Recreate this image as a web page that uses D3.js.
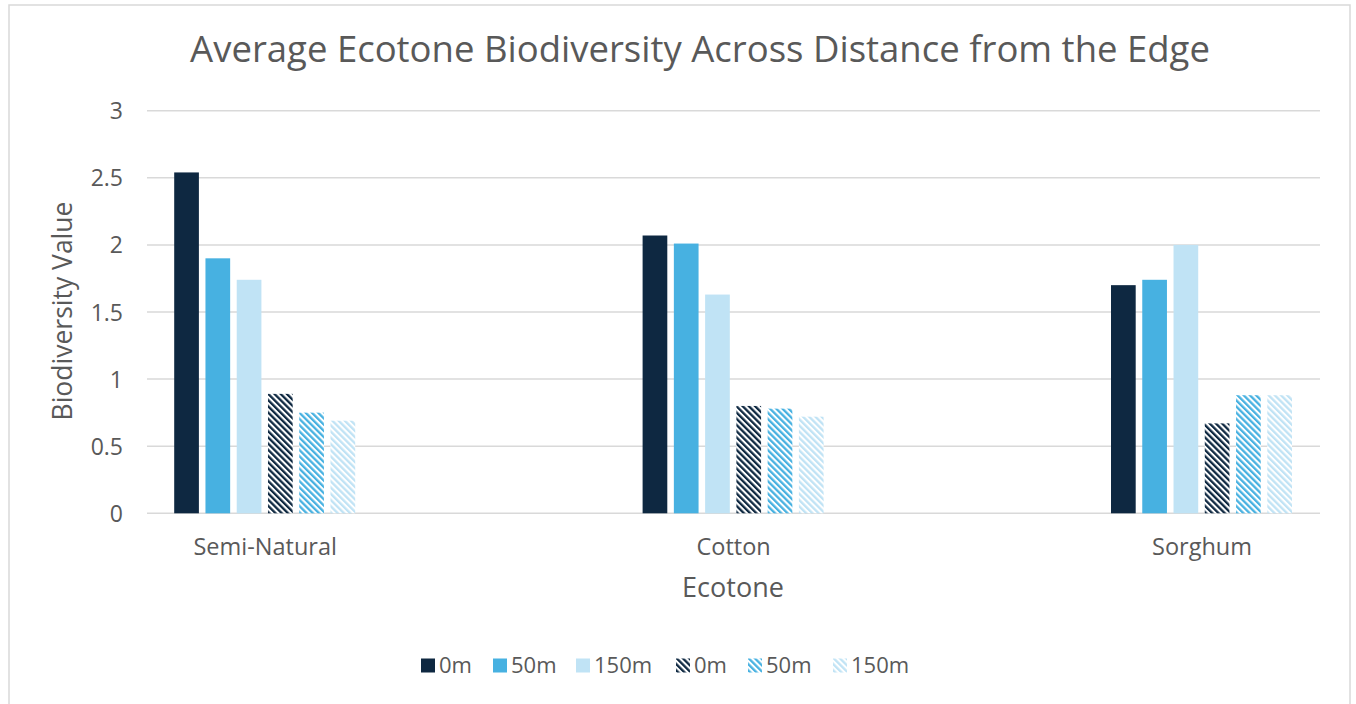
<!DOCTYPE html>
<html>
<head>
<meta charset="utf-8">
<script src="https://cdn.jsdelivr.net/npm/d3@7"></script>
<style>
  html, body { margin: 0; padding: 0; background: #ffffff; }
  svg { display: block; }
  text { font-family: "Open Sans", "Liberation Sans", sans-serif; fill: #595959; }
</style>
</head>
<body>
<svg id="chart" width="1356" height="704"></svg>
<script>
// ---- data ----
const categories = ["Semi-Natural", "Cotton", "Sorghum"];
const seriesNames = ["0m", "50m", "150m", "0m", "50m", "150m"];
const seriesHatched = [false, false, false, true, true, true];
const values0m      = [2.54, 2.07, 1.70];
const values50m     = [1.90, 2.01, 1.74];
const values150m    = [1.74, 1.63, 2.00];
const valuesH0m     = [0.89, 0.80, 0.67];
const valuesH50m    = [0.75, 0.78, 0.88];
const valuesH150m   = [0.69, 0.72, 0.88];
const yTicks = [0, 0.5, 1, 1.5, 2, 2.5, 3];
const titleText = "Average Ecotone Biodiversity Across Distance from the Edge";
const xTitle = "Ecotone";
const yTitle = "Biodiversity Value";

const seriesValues = [values0m, values50m, values150m, valuesH0m, valuesH50m, valuesH150m];
const colors = ["#0E2841", "#47B1E1", "#C0E3F5", "#0E2841", "#47B1E1", "#C0E3F5"];
const FONT = '"Open Sans", "Liberation Sans", sans-serif';

const svg = d3.select("#chart");
const defs = svg.append("defs");

// hatch patterns (downward diagonal)
colors.forEach((c, i) => {
  const p = defs.append("pattern")
    .attr("id", "hatch" + i)
    .attr("patternUnits", "userSpaceOnUse")
    .attr("width", 4.4).attr("height", 4.4)
    .attr("patternTransform", "rotate(-45)");
  p.append("rect").attr("width", 4.4).attr("height", 4.4).attr("fill", "#ffffff");
  p.append("rect").attr("width", 2.3).attr("height", 4.4).attr("fill", c);
});

// chart border
svg.append("rect")
  .attr("x", 9).attr("y", 5).attr("width", 1341).attr("height", 720)
  .attr("fill", "#ffffff").attr("stroke", "#D9D9D9").attr("stroke-width", 1.5);

// scales
const plotLeft = 147, plotRight = 1320;
const y = d3.scaleLinear().domain([0, 3]).range([513.3, 110.7]);
const x0 = d3.scalePoint().domain(categories).range([264.7, 1201.5]);
const x1 = d3.scaleBand().domain(d3.range(seriesNames.length)).range([-90.5, 90.5]).paddingInner(0.21).paddingOuter(0);

// gridlines
svg.append("g").selectAll("line").data(yTicks).join("line")
  .attr("x1", plotLeft).attr("x2", plotRight)
  .attr("y1", d => y(d)).attr("y2", d => y(d))
  .attr("stroke", "#D9D9D9").attr("stroke-width", 1.5);

// y axis labels via d3 axis
const yAxis = svg.append("g")
  .attr("transform", `translate(${plotLeft - 24},0)`)
  .call(d3.axisLeft(y).tickValues(yTicks).tickSize(0).tickPadding(0).tickFormat(d3.format("~g")));
yAxis.select(".domain").remove();
yAxis.selectAll("text").attr("font-size", 23).attr("fill", "#595959").attr("dy", "0.35em")
  .style("font-family", FONT);

// bars
const groups = svg.append("g").selectAll("g").data(categories).join("g")
  .attr("transform", d => `translate(${x0(d)},0)`);
groups.selectAll("rect")
  .data((cat, ci) => seriesValues.map((vals, si) => ({ si, v: vals[ci] })))
  .join("rect")
  .attr("x", d => x1(d.si))
  .attr("width", x1.bandwidth())
  .attr("y", d => y(d.v))
  .attr("height", d => y(0) - y(d.v))
  .attr("fill", d => seriesHatched[d.si] ? `url(#hatch${d.si})` : colors[d.si]);

// x axis category labels via d3 axis
const xAxis = svg.append("g")
  .attr("transform", `translate(0,${y(0)})`)
  .call(d3.axisBottom(x0).tickSize(0).tickPadding(0));
xAxis.select(".domain").remove();
xAxis.selectAll("text").attr("font-size", 23.5).attr("fill", "#595959")
  .attr("dy", 0).attr("y", 42)
  .style("font-family", FONT);

// title
svg.append("text").attr("x", 700).attr("y", 62)
  .attr("text-anchor", "middle").attr("font-size", 36.5).text(titleText);

// axis titles
svg.append("text").attr("x", 733).attr("y", 597)
  .attr("text-anchor", "middle").attr("font-size", 27).text(xTitle);
svg.append("text").attr("transform", "translate(72,311) rotate(-90)")
  .attr("text-anchor", "middle").attr("font-size", 26.5).text(yTitle);

// legend
const legendX = [421, 493, 576, 676, 748, 833];
const legend = svg.append("g").selectAll("g").data(seriesNames).join("g")
  .attr("transform", (d, i) => `translate(${legendX[i]},665.5)`);
legend.append("rect").attr("x", 0).attr("y", -7).attr("width", 14).attr("height", 14)
  .attr("fill", (d, i) => seriesHatched[i] ? `url(#hatch${i})` : colors[i]);
legend.append("text").attr("x", 18).attr("y", 7.5).attr("font-size", 22).text(d => d);
</script>
</body>
</html>
